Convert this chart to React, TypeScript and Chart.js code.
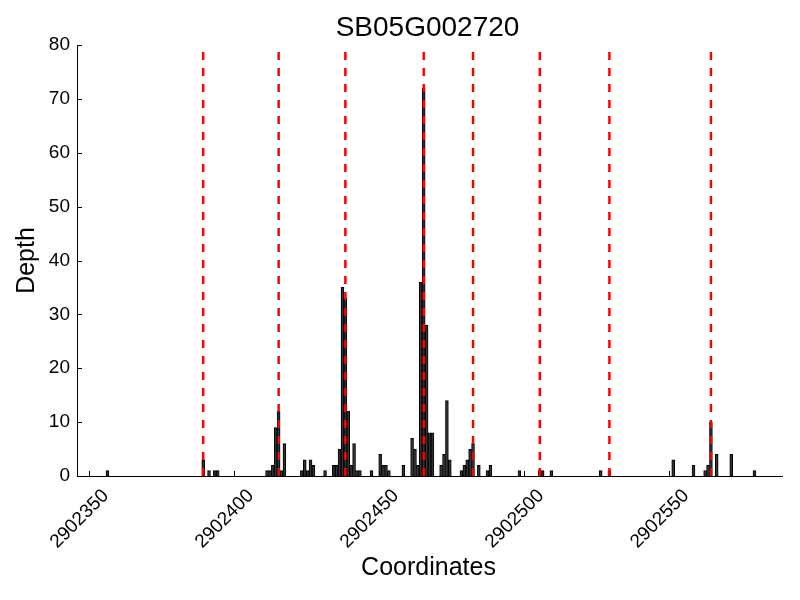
import { useEffect, useRef } from 'react';
import { Chart, registerables } from 'chart.js';

Chart.register(...registerables);

const TITLE = 'SB05G002720';
const X_LABEL = 'Coordinates';
const Y_LABEL = 'Depth';

// bar start coordinates (bars span [pos, pos+1])
const positions = [
  2902356, 2902389, 2902391, 2902393, 2902394,
  2902411, 2902412, 2902413, 2902414, 2902415, 2902416, 2902417,
  2902423, 2902424, 2902425, 2902426, 2902427, 2902431,
  2902434, 2902435, 2902436, 2902437, 2902438, 2902439, 2902440, 2902441, 2902442, 2902443,
  2902447, 2902450, 2902451, 2902452, 2902453, 2902458,
  2902461, 2902462, 2902463, 2902464, 2902465, 2902466, 2902467, 2902468,
  2902471, 2902472, 2902473, 2902474,
  2902478, 2902479, 2902480, 2902481, 2902482, 2902484, 2902487, 2902488,
  2902498, 2902505, 2902506, 2902509, 2902526, 2902529,
  2902551, 2902558, 2902562, 2902563, 2902564, 2902566, 2902571, 2902579,
];
const depths = [
  1, 3, 1, 1, 1,
  1, 1, 2, 9, 12, 1, 6,
  1, 3, 1, 3, 2, 1,
  2, 2, 5, 35, 33, 12, 2, 6, 1, 1,
  1, 4, 2, 2, 1, 2,
  7, 5, 2, 36, 72, 28, 8, 8,
  2, 4, 14, 3,
  1, 2, 3, 5, 6, 2, 1, 2,
  1, 1, 1, 1, 1, 1,
  3, 2, 1, 2, 10, 4, 4, 1,
];
const redLines = [2902389, 2902415, 2902438, 2902465, 2902482, 2902505, 2902529, 2902564];
const RED_TOP = 79;

const xTickValues = [2902350, 2902400, 2902450, 2902500, 2902550];
const xTickLabels = ['2902350', '2902400', '2902450', '2902500', '2902550'];
const yTickValues = [0, 10, 20, 30, 40, 50, 60, 70, 80];

const X_MIN = 2902346;
const X_MAX = 2902589;
const Y_MIN = 0;
const Y_MAX = 80;

const FONT = '"Liberation Sans", Arial, sans-serif';

export default function App() {
  const ref = useRef<HTMLCanvasElement | null>(null);

  useEffect(() => {
    if (!ref.current) return;
    const decor = {
      id: 'decor',
      afterDraw(chart: any) {
        const ctx = chart.ctx;
        const xs = chart.scales.x;
        const ys = chart.scales.y;
        const area = chart.chartArea;
        ctx.save();
        ctx.strokeStyle = '#000';
        ctx.lineWidth = 1;
        ctx.beginPath();
        yTickValues.forEach((v) => {
          const y = Math.round(ys.getPixelForValue(v)) + 0.5;
          ctx.moveTo(area.left, y);
          ctx.lineTo(area.left + 5, y);
        });
        xTickValues.forEach((v) => {
          const x = Math.round(xs.getPixelForValue(v)) + 0.5;
          ctx.moveTo(x, area.bottom);
          ctx.lineTo(x, area.bottom - 5);
        });
        ctx.stroke();

        ctx.fillStyle = '#000';
        ctx.textAlign = 'center';
        ctx.textBaseline = 'middle';
        ctx.font = '19px ' + FONT;
        xTickValues.forEach((v, i) => {
          const x = xs.getPixelForValue(v);
          ctx.save();
          ctx.translate(x - 9, area.bottom + 43);
          ctx.rotate(-Math.PI / 4);
          ctx.fillText(xTickLabels[i], 0, 0);
          ctx.restore();
        });

        const cx = (area.left + area.right) / 2;
        ctx.font = '28px ' + FONT;
        ctx.fillText(TITLE, cx - 2, 28);
        ctx.font = '25px ' + FONT;
        ctx.fillText(X_LABEL, cx - 1, 568);
        ctx.save();
        ctx.translate(27, (area.top + area.bottom) / 2);
        ctx.rotate(-Math.PI / 2);
        ctx.fillText(Y_LABEL, 0, 0);
        ctx.restore();
        ctx.restore();
      },
    };

    const lineSets = redLines.map((p) => ({
      type: 'line' as const,
      data: [
        { x: p + 0.5, y: 0 },
        { x: p + 0.5, y: RED_TOP },
      ],
      borderColor: '#ff0000',
      borderWidth: 2.5,
      borderDash: [8, 8],
      borderCapStyle: 'butt' as const,
      pointRadius: 0,
      fill: false,
      order: 1,
    }));

    const chart = new Chart(ref.current, {
      type: 'bar',
      data: {
        datasets: [
          {
            type: 'bar',
            data: positions.map((p, i) => ({ x: p + 0.5, y: depths[i] })),
            backgroundColor: '#333333',
            borderColor: '#000000',
            borderWidth: 1,
            barPercentage: 1,
            categoryPercentage: 1,
            grouped: false,
            order: 2,
          } as any,
          ...lineSets,
        ],
      },
      plugins: [decor],
      options: {
        animation: false,
        responsive: false,
        maintainAspectRatio: false,
        layout: { padding: { left: 0, right: 18, top: 45, bottom: 0 } },
        plugins: {
          legend: { display: false },
          title: { display: false },
          tooltip: { enabled: false },
        },
        scales: {
          x: {
            type: 'linear',
            min: X_MIN,
            max: X_MAX,
            offset: false,
            grid: { display: false, drawTicks: false, offset: false },
            border: { display: true, color: '#000', width: 1 },
            ticks: { display: false },
            afterFit(scale: any) {
              scale.height = 124;
            },
          },
          y: {
            type: 'linear',
            min: Y_MIN,
            max: Y_MAX,
            grid: { display: false, drawTicks: false },
            border: { display: true, color: '#000', width: 1 },
            ticks: {
              stepSize: 10,
              padding: 7,
              color: '#000',
              font: { size: 19, family: FONT },
            },
            afterFit(scale: any) {
              scale.width = 77;
            },
          },
        },
      },
    });
    return () => chart.destroy();
  }, []);

  return (
    <div style={{ position: 'fixed', left: 0, top: 0, width: 800, height: 600, background: '#fff' }}>
      <canvas ref={ref} width={800} height={600} />
    </div>
  );
}
